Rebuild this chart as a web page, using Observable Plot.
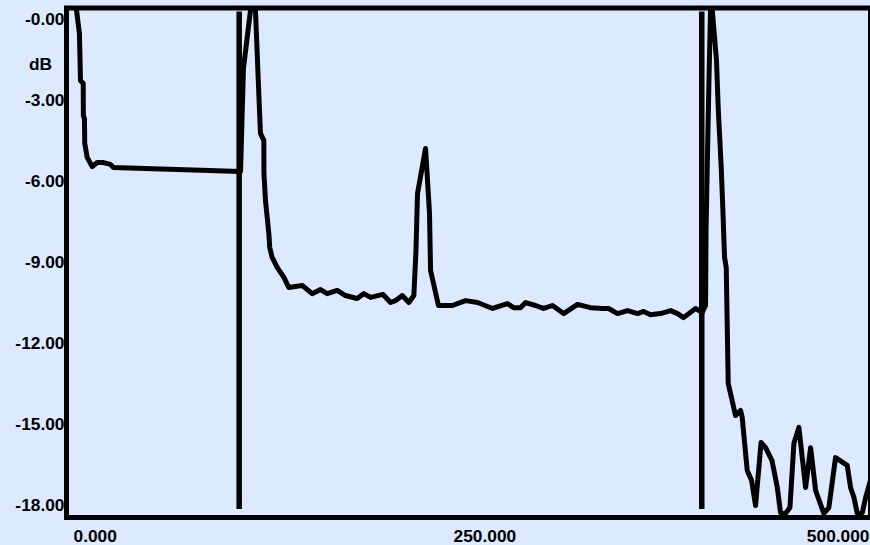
<!DOCTYPE html>
<html>
<head>
<meta charset="utf-8">
<script src="https://cdn.jsdelivr.net/npm/d3@7"></script>
<script src="https://cdn.jsdelivr.net/npm/@observablehq/plot@0.6"></script>
<style>
  html, body { margin: 0; padding: 0; background: #dbeafe; }
  #chart svg { display: block; background: #dbeafe; }
</style>
</head>
<body>
<div id="chart"></div>
<script>
// Frequency axis samples
const freqs = [
  0.0, 2.0, 3.9, 4.6, 6.4, 6.5, 7.2, 7.4, 9.0, 12.3, 15.6, 19.7, 24.3, 26.3,
  109.9, 111.8, 118.9, 121.9, 123.0, 125.2, 125.3, 126.3, 128.5, 129.1, 130.7,
  134.0, 138.4, 141.6, 150.5, 157.0, 162.5, 166.9, 173.5, 178.9, 186.6, 191.0,
  195.4, 203.6, 208.6, 211.8, 216.3, 220.6, 223.9, 225.3, 226.3, 231.6, 234.2,
  234.9, 240.1, 249.3, 257.9, 265.8, 275.7, 285.5, 289.5, 294.1, 297.4, 303.9,
  309.2, 315.1, 322.4, 331.6, 340.1, 348.0, 352.0, 357.9, 364.5, 371.1, 375.0,
  379.6, 386.2, 392.8, 397.4, 401.3, 409.2, 413.6, 415.8, 416.1, 416.9, 418.0,
  419.3, 423.0, 424.1, 426.1, 427.2, 428.3, 429.4, 430.7, 432.2, 435.5, 438.8,
  439.9, 443.2, 446.1, 448.7, 452.3, 455.3, 459.5, 463.0, 465.1, 468.4, 471.3,
  473.9, 477.2, 481.6, 484.9, 488.2, 493.6, 496.9, 501.3, 509.0, 511.2, 513.4,
  515.6, 518.9, 521.1, 524.3
];
// Level in dB
const levels = [
  1.19, 0.34, -0.52, -2.26, -2.37, -3.56, -3.67, -4.59, -5.11, -5.45, -5.30, -5.30, -5.37, -5.48,
  -5.63, -1.81, 1.49, -2.74, -4.22, -4.48, -5.71, -6.71, -7.93, -8.45, -8.82,
  -9.19, -9.56, -9.93, -9.86, -10.16, -10.01, -10.16, -10.04, -10.23, -10.34, -10.16,
  -10.30, -10.19, -10.49, -10.42, -10.23, -10.49, -10.23, -8.56, -6.45, -4.78, -7.19,
  -9.30, -10.60, -10.60, -10.42, -10.49, -10.71, -10.53, -10.68, -10.68, -10.49, -10.60,
  -10.71, -10.60, -10.90, -10.56, -10.68, -10.71, -10.71, -10.90, -10.79, -10.90, -10.82,
  -10.94, -10.90, -10.79, -10.90, -11.05, -10.71, -10.86, -10.60, -7.93, -5.48, -2.37,
  0.97, -1.52, -3.26, -5.48, -7.08, -8.82, -9.19, -13.49, -13.86, -14.68, -14.49,
  -14.75, -16.72, -17.09, -18.02, -15.68, -15.87, -16.35, -17.35, -18.28, -18.31, -18.09,
  -15.72, -15.12, -17.35, -15.87, -17.46, -18.31, -18.09, -16.24, -16.53, -17.35, -17.72,
  -18.31, -18.28, -17.72, -17.09
];
// Vertical marker positions
const markers = [109.0, 413.3];

const xTicks = [0, 250, 500];
const xTickLabels = ["0.000", "250.000", "500.000"];
const yTicks = [0, -3, -6, -9, -12, -15, -18];
const yTickLabels = ["-0.00", "-3.00", "-6.00", "-9.00", "-12.00", "-15.00", "-18.00"];
const yLabel = "dB";

const data = freqs.map((f, i) => ({f, v: levels[i]}));

const font = "'Liberation Sans', Arial, sans-serif";
const fs = "13pt";

const chart = Plot.plot({
  width: 870,
  height: 545,
  marginLeft: 66,
  marginRight: 0,
  marginTop: 7.5,
  marginBottom: 28,
  style: {background: "#dbeafe", fontFamily: font, fontWeight: "bold", color: "#000"},
  x: {domain: [-4.6, 524.3]},
  y: {domain: [-18.46, 0.43]},
  marks: [
    Plot.lineY(data, {x: "f", y: "v", stroke: "#000", strokeWidth: 5, strokeLinejoin: "round", clip: true}),
    Plot.ruleX(markers, {stroke: "#000", strokeWidth: 5.5, insetTop: 4, insetBottom: 8}),
    Plot.axisX(xTicks.slice(0, 2), {
      tickSize: 0, tickPadding: 12, textAnchor: "start",
      tickFormat: d => xTickLabels[xTicks.indexOf(d)],
      fontSize: fs, fontWeight: "bold", label: null
    }),
    Plot.text([xTickLabels[2]], {
      frameAnchor: "bottom-right", textAnchor: "end", lineAnchor: "top",
      dy: 12, dx: -1, fontSize: fs, fontWeight: "bold", fill: "#000"
    }),
    Plot.axisY(yTicks, {
      tickSize: 0, tickPadding: 2,
      tickFormat: d => yTickLabels[yTicks.indexOf(d)],
      fontSize: fs, fontWeight: "bold", label: null
    }),
    Plot.text([yLabel], {
      frameAnchor: "top-left", textAnchor: "middle", lineAnchor: "middle",
      dx: -26, dy: 56, fontSize: fs, fontWeight: "bold", fill: "#000"
    }),
    Plot.frame({stroke: "#000", strokeWidth: 5})
  ]
});
document.getElementById("chart").appendChild(chart);
</script>
</body>
</html>
